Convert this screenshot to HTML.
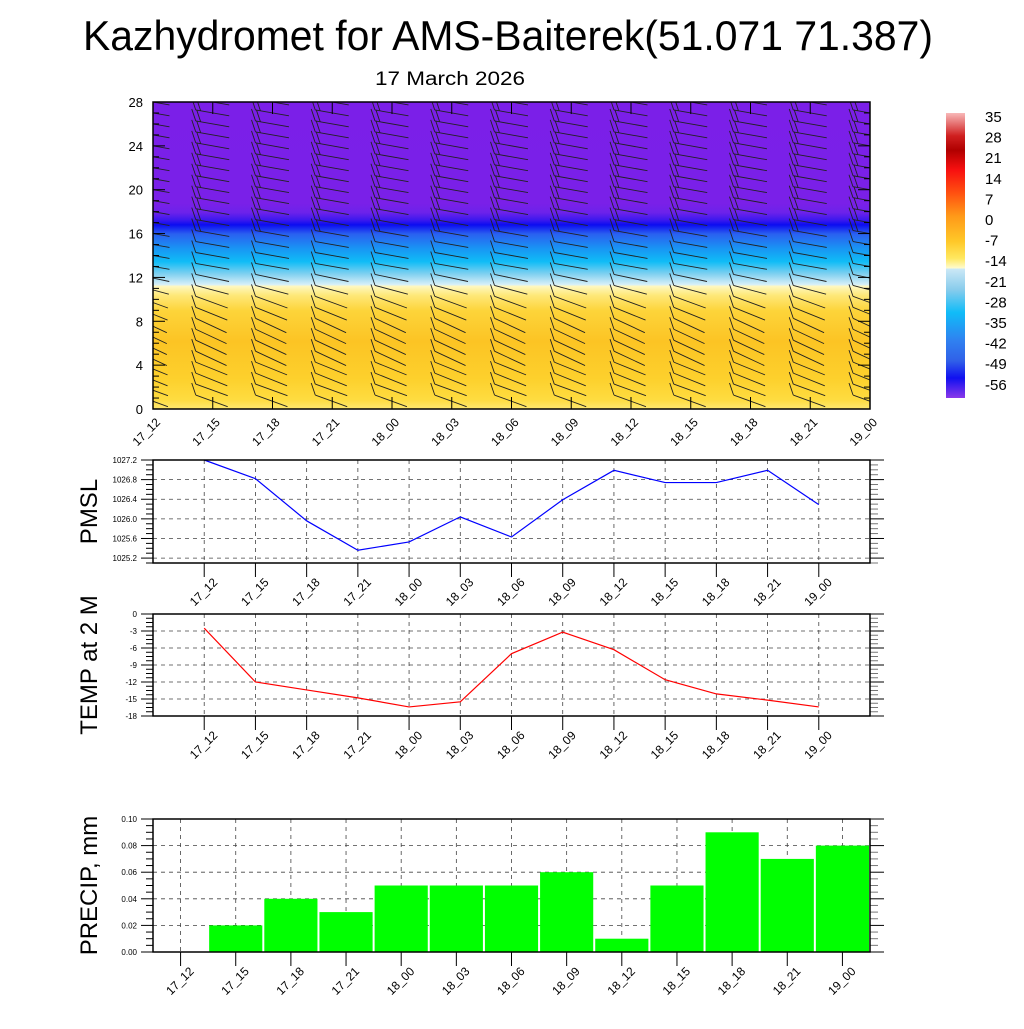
<!DOCTYPE html>
<html><head><meta charset="utf-8"><style>
html,body{margin:0;padding:0;background:#fff}
svg text{font-family:"Liberation Sans",sans-serif}
</style></head><body>
<svg id="s" width="1024" height="1024" xmlns="http://www.w3.org/2000/svg">
<defs>
<linearGradient id="bg" x1="0" y1="0" x2="0" y2="1">
<stop offset="0" stop-color="#7b1fe8"/>
<stop offset="0.33" stop-color="#7a20e8"/>
<stop offset="0.36" stop-color="#6d22ea"/>
<stop offset="0.385" stop-color="#3a18ee"/>
<stop offset="0.40" stop-color="#0c0cf0"/>
<stop offset="0.43" stop-color="#2a60f0"/>
<stop offset="0.48" stop-color="#1898f4"/>
<stop offset="0.52" stop-color="#10bcf6"/>
<stop offset="0.56" stop-color="#80d0f0"/>
<stop offset="0.595" stop-color="#d8f0f8"/>
<stop offset="0.60" stop-color="#fff8c0"/>
<stop offset="0.63" stop-color="#fee878"/>
<stop offset="0.68" stop-color="#fdd43a"/>
<stop offset="0.78" stop-color="#fcc424"/>
<stop offset="0.90" stop-color="#fdd02c"/>
<stop offset="0.97" stop-color="#fedc40"/>
<stop offset="1" stop-color="#fee870"/>
</linearGradient>
<linearGradient id="cb" x1="0" y1="0" x2="0" y2="1">
<stop offset="0" stop-color="#f8b8b8"/>
<stop offset="0.08" stop-color="#d02020"/>
<stop offset="0.13" stop-color="#b00000"/>
<stop offset="0.2" stop-color="#f81010"/>
<stop offset="0.28" stop-color="#ff5010"/>
<stop offset="0.36" stop-color="#ff9818"/>
<stop offset="0.45" stop-color="#ffc828"/>
<stop offset="0.51" stop-color="#ffe860"/>
<stop offset="0.545" stop-color="#fffbd0"/>
<stop offset="0.546" stop-color="#cce8f6"/>
<stop offset="0.62" stop-color="#88ccec"/>
<stop offset="0.70" stop-color="#10bcf8"/>
<stop offset="0.80" stop-color="#3080f0"/>
<stop offset="0.87" stop-color="#3060e8"/>
<stop offset="0.93" stop-color="#1010f0"/>
<stop offset="1" stop-color="#8a38ea"/>
</linearGradient>
<clipPath id="clipTop"><rect x="153" y="102" width="717" height="307"/></clipPath>
</defs>
<text x="508" y="50" font-size="42" text-anchor="middle" textLength="850" lengthAdjust="spacingAndGlyphs">Kazhydromet for AMS-Baiterek(51.071 71.387)</text>
<text x="450" y="85" font-size="19" text-anchor="middle" textLength="150" lengthAdjust="spacingAndGlyphs">17 March 2026</text>
</svg>
<script>
const times=["17_12","17_15","17_18","17_21","18_00","18_03","18_06","18_09","18_12","18_15","18_18","18_21","19_00"];
const pmsl=[1027.2,1026.82,1025.96,1025.36,1025.53,1026.04,1025.63,1026.39,1026.99,1026.74,1026.74,1026.99,1026.29];
const temp=[-2.5,-12,-13.4,-14.8,-16.4,-15.5,-7,-3.2,-6.3,-11.6,-14.1,-15.2,-16.4];
const precip=[0,0.02,0.04,0.03,0.05,0.05,0.05,0.06,0.01,0.05,0.09,0.07,0.08];
const levels=[1,2,3,4,5,6,7,8,9,10,11,12,13,14,15,16,17,18,19,20,21,22,23,24,25,26,27,28];
const windDir=[290,290,292,292,295,295,295,295,292,290,285,282,280,280,280,280,280,280,280,280,280,280,280,280,280,280,280,280];
const windSpd=[10,10,10,10,10,10,10,10,10,10,10,10,10,10,10,15,15,20,20,20,20,20,20,20,20,20,20,20];
const cbLabels=["35","28","21","14","7","0","-7","-14","-21","-28","-35","-42","-49","-56"];

const S=document.getElementById('s');
const NS="http://www.w3.org/2000/svg";
function mk(t,a,p){const e=document.createElementNS(NS,t);for(const k in a)e.setAttribute(k,a[k]);(p||S).appendChild(e);return e;}
const L=153,R=870;

// ---- top cross-section ----
const T={t:102,b:409};
const tx=i=>L+i*(R-L)/12, ty=v=>T.b-v*(T.b-T.t)/28;
let bgr=mk('rect',{x:L,y:T.t,width:R-L,height:T.b-T.t,fill:'url(#bg)'});


const gB=mk('g',{stroke:'#222','stroke-width':0.9,fill:'none','clip-path':'url(#clipTop)'});


times.forEach((t,i)=>{levels.forEach((lv,j)=>{
 const x=tx(i),y=ty(lv);
 const a=(windDir[j]-270)*Math.PI/180;
 const dx=Math.cos(a),dy=Math.sin(a);
 const x0=x-17,y0=y-3, x1=x0+34*dx, y1=y0+34*dy;
 let b=mk('line',{x1:x0,y1:y0,x2:x1,y2:y1},gB);
 
 
 const n=Math.max(1,Math.round(windSpd[j]/10));
 for(let k=0;k<n;k++){const px=x0+k*5*dx,py=y0+k*5*dy;mk('line',{x1:px,y1:py,x2:px-4,y2:py-12},gB);}
});});
mk('rect',{x:L,y:T.t,width:R-L,height:T.b-T.t,fill:'none',stroke:'#000','stroke-width':1.5});
for(let v=0;v<=28;v++){const y=ty(v);const M=v%4==0;mk('line',{x1:L,y1:y,x2:L+(M?12:6),y2:y,stroke:'#000'});mk('line',{x1:R,y1:y,x2:R-(M?12:6),y2:y,stroke:'#000'});
 if(M){let e=mk('text',{x:143,y:y+5,'font-size':13,'text-anchor':'end'});e.textContent=v;}}
times.forEach((t,i)=>{const x=tx(i);mk('line',{x1:x,y1:T.b,x2:x,y2:T.b-12,stroke:'#000'});mk('line',{x1:x,y1:T.t,x2:x,y2:T.t+12,stroke:'#000'});
 let e=mk('text',{x:x+8,y:T.b+14,'font-size':12,'text-anchor':'end',transform:`rotate(-45 ${x+8} ${T.b+14})`});e.textContent=t;});

// colorbar
let cbr=mk('rect',{x:946,y:113,width:19,height:285,fill:'url(#cb)'});


cbLabels.forEach((s,k)=>{let e=mk('text',{x:985,y:122+k*20.6,'font-size':15});e.textContent=s;});

// ---- line/bar panels ----
function panel(o){
 const{t,b,lo,hi,major,minor,fmt,title,off,name}=o;
 const xs=i=>L+(i+off)*(R-L)/(12+2*off);
 const ys=v=>b-(v-lo)*(b-t)/(hi-lo);
 const g=mk('g',{});
 for(let v=lo;v<=hi+1e-9;v+=minor){const y=ys(v);const M=Math.abs(((v-o.m0)/major)-Math.round((v-o.m0)/major))<1e-6;
  if(y<t-0.5)continue;
  mk('line',{x1:L,y1:y,x2:L-(M?12:7),y2:y,stroke:'#000'},g);mk('line',{x1:R,y1:y,x2:R+(M?14:8),y2:y,stroke:M?'#000':'#777'},g);
  if(M){mk('line',{x1:L,y1:y,x2:R,y2:y,stroke:'#444','stroke-dasharray':'4,4','stroke-width':0.8},g);
   let e=mk('text',{x:L-16,y:y+3,'font-size':8,'text-anchor':'end'},g);e.textContent=fmt(v);}}
 times.forEach((s,i)=>{const x=xs(i);mk('line',{x1:x,y1:t,x2:x,y2:b,stroke:'#444','stroke-dasharray':'4,4','stroke-width':0.8},g);
  mk('line',{x1:x,y1:b,x2:x,y2:b+14,stroke:'#000'},g);
  let e=mk('text',{x:x+14,y:b+20,'font-size':12,'text-anchor':'end',transform:`rotate(-45 ${x+14} ${b+20})`},g);e.textContent=s;});
 let tt=mk('text',{x:97,y:(t+b)/2,'font-size':24,'text-anchor':'middle',transform:`rotate(-90 97 ${(t+b)/2})`},g);tt.textContent=title;
 return {g,xs,ys,box:()=>mk('rect',{x:L,y:t,width:R-L,height:b-t,fill:'none',stroke:'#000','stroke-width':1.5},g)};
}
const p1=panel({t:460,b:563,lo:1025.1,hi:1027.2,major:0.4,minor:0.1,m0:1025.2,fmt:v=>v.toFixed(1),title:'PMSL',off:1,name:'pmsl-panel'});
let l1=mk('polyline',{points:pmsl.map((v,i)=>p1.xs(i)+','+p1.ys(v)).join(' '),fill:'none',stroke:'#0000ff','stroke-width':1.2},p1.g);
p1.box();
const p2=panel({t:614,b:716,lo:-18,hi:0,major:3,minor:0.75,m0:0,fmt:v=>String(Math.round(v)),title:'TEMP at 2 M',off:1,name:'temp-panel'});
let l2=mk('polyline',{points:temp.map((v,i)=>p2.xs(i)+','+p2.ys(v)).join(' '),fill:'none',stroke:'#ff0000','stroke-width':1.2},p2.g);
p2.box();
const p3=panel({t:819,b:952,lo:0,hi:0.1,major:0.02,minor:0.005,m0:0,fmt:v=>v.toFixed(2),title:'PRECIP, mm',off:0.5,name:'precip-panel'});
const bw=(R-L)/13;
precip.forEach((v,i)=>{if(v<=0)return;const x=p3.xs(i);let r=mk('rect',{x:x-bw/2+1,y:p3.ys(v),width:bw-2,height:p3.ys(0)-p3.ys(v),fill:'#00ff00'},p3.g);
 });
p3.box();
</script>
</body></html>
